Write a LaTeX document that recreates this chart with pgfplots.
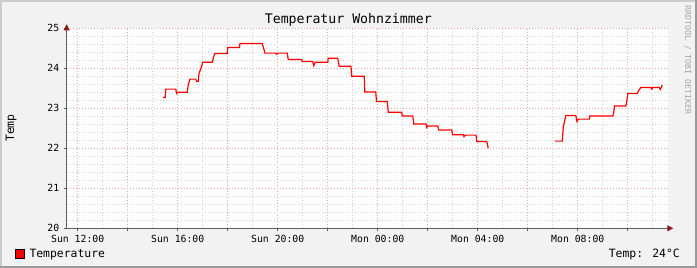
\documentclass[border=0pt]{standalone}
\usepackage{fontspec}
\setmainfont{DejaVu Sans Mono}
\usepackage{pgfplots}
\pgfplotsset{compat=1.18}
\usetikzlibrary{arrows.meta}
\definecolor{bg}{HTML}{F2F2F2}
\definecolor{mgrid}{HTML}{E8A8A8}
\definecolor{sgrid}{HTML}{D2D2D2}
\definecolor{axcol}{HTML}{606060}
\definecolor{arrcol}{HTML}{8B1A1A}
\begin{document}
\begin{tikzpicture}
\path[use as bounding box] (0,0) rectangle (697pt,268pt);
\fill[bg] (0,0) rectangle (697pt,268pt);
\draw[line width=2pt, color=black!20] (1pt,0) -- (1pt,267pt) -- (697pt,267pt);
\draw[line width=2pt, color=black!40] (0,1pt) -- (696pt,1pt) -- (696pt,268pt);
\begin{axis}[
  at={(66.7pt,39.7pt)}, anchor=south west,
  scale only axis, width=601.6pt, height=200pt,
  xmin=-0.44, xmax=23.62, ymin=20, ymax=25,
  axis x line=bottom, axis y line=left,
  axis line style={axcol, line width=0.9pt},
  x axis line style={-{Triangle[length=6pt,width=6pt,color=arrcol]}, shorten >=-5pt},
  y axis line style={-{Triangle[length=6pt,width=6pt,color=arrcol]}, shorten >=-4pt},
  axis background/.style={fill=white},
  xtick={0,2,...,22},
  xticklabels={Sun 12:00,,Sun 16:00,,Sun 20:00,,Mon 00:00,,Mon 04:00,,Mon 08:00,},
  minor xtick={-1,1,3,...,23},
  ytick={20,21,...,25},
  minor y tick num=4,
  tick align=outside, major tick length=3pt, minor tick length=0pt,
  tick style={axcol, line width=0.8pt},
  grid=both,
  major grid style={mgrid, dash pattern=on 1pt off 2pt, line width=0.8pt},
  minor grid style={sgrid, dash pattern=on 1pt off 2pt, line width=0.8pt},
  /pgf/number format/assume math mode=true,
  ticklabel style={font=\fontsize{9.8}{10}\selectfont, text=black},
  xticklabel style={yshift=-0.5pt},
  yticklabel style={xshift=-1pt},
  clip=false,
  legend style={at={(axis description cs:-0.0859,-0.1285)}, anchor=west, draw=none, fill=none, inner sep=0pt,
     font=\fontsize{11.4}{12}\selectfont, /tikz/every even column/.append style={column sep=0pt}},
  legend cell align=left,
  legend image code/.code={\draw[fill=red, draw=black, line width=0.8pt] (0pt,-4.5pt) rectangle (8.5pt,4.5pt);},
]
\addplot[red, line width=1.2pt, unbounded coords=jump] coordinates {
(3.42,23.27)(3.50,23.27)(3.52,23.48)(3.92,23.48)(3.96,23.37)(4.00,23.40)(4.38,23.40)(4.42,23.58)(4.49,23.73)(4.72,23.73)(4.76,23.67)(4.82,23.67)(4.85,23.87)(4.93,24.00)(5.00,24.15)(5.38,24.15)(5.44,24.29)(5.49,24.37)(5.98,24.37)(6.00,24.52)(6.47,24.52)(6.49,24.62)(7.38,24.62)(7.42,24.54)(7.49,24.38)(7.92,24.38)(7.96,24.35)(8.02,24.38)(8.38,24.38)(8.42,24.22)(8.96,24.22)(8.98,24.17)(9.40,24.17)(9.44,24.07)(9.50,24.15)(10.00,24.15)(10.02,24.25)(10.40,24.25)(10.46,24.05)(10.93,24.05)(10.96,23.80)(11.46,23.80)(11.48,23.41)(11.92,23.41)(11.95,23.17)(12.38,23.17)(12.42,22.90)(12.96,22.90)(12.98,22.81)(13.40,22.81)(13.44,22.61)(13.93,22.61)(13.96,22.52)(14.00,22.56)(14.40,22.56)(14.44,22.46)(14.96,22.46)(14.99,22.34)(15.42,22.34)(15.45,22.29)(15.50,22.33)(15.93,22.33)(15.96,22.17)(16.36,22.17)(16.42,22.00)
(17.50,nan)
(19.08,22.18)(19.38,22.18)(19.42,22.53)(19.52,22.82)(19.92,22.82)(19.97,22.67)(20.02,22.73)(20.46,22.73)(20.48,22.81)(21.40,22.81)(21.44,22.90)(21.47,23.06)(21.92,23.06)(21.96,23.17)(22.00,23.37)(22.38,23.37)(22.43,23.44)(22.52,23.52)(22.93,23.52)(22.96,23.48)(23.00,23.52)(23.26,23.52)(23.30,23.47)(23.38,23.58)
};
\addlegendentry{\hspace{3pt}Temperature}
\end{axis}
\node[anchor=base, font=\fontsize{13.2}{14}\selectfont] at (348.3pt,244pt) {Temperatur Wohnzimmer};
\node[anchor=base, rotate=90, font=\fontsize{11.5}{12}\selectfont] at (14pt,140pt) {Temp};
\node[anchor=base, rotate=-90, font=\fontsize{8.3}{9}\selectfont, text=black!35] at (685pt,208pt) {RRDTOOL / TOBI OETIKER};
\node[anchor=base east, font=\fontsize{11.4}{12}\selectfont, inner sep=0pt] at (680pt,10.3pt) {Temp: 24°C};
\end{tikzpicture}
\end{document}
